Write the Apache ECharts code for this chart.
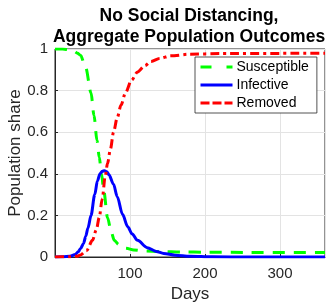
<!DOCTYPE html>
<html>
<head>
<meta charset="utf-8">
<script src="https://cdn.jsdelivr.net/npm/echarts@6/dist/echarts.min.js"></script>
<style>
  html, body { margin: 0; padding: 0; background: #fff; }
  #chart { width: 328px; height: 302px; }
</style>
</head>
<body>
<div id="chart"></div>
<script>
// Susceptible share by day
const susDays = [0, 10, 20, 25, 30, 34, 41, 48, 52, 56, 59, 62, 65, 70, 75, 79, 85, 95, 105, 120, 140, 170, 200, 260, 360];
const susVals = [1.0, 1.0, 0.996, 0.99, 0.98, 0.97, 0.91, 0.79, 0.68, 0.56, 0.48, 0.40, 0.32, 0.19, 0.12, 0.08, 0.06, 0.042, 0.034, 0.029, 0.026, 0.024, 0.023, 0.022, 0.022];

// Infective share by day
const infDays = [0, 10, 20, 27, 31, 34, 38, 41, 44, 48, 53, 56.5, 60, 63, 66, 69, 72, 78, 83, 90, 97, 103, 110, 123, 135, 145, 160, 180, 210, 260, 360];
const infVals = [0, 0.001, 0.004, 0.012, 0.025, 0.04, 0.065, 0.10, 0.14, 0.20, 0.30, 0.365, 0.40, 0.412, 0.415, 0.41, 0.395, 0.35, 0.29, 0.205, 0.145, 0.11, 0.08, 0.045, 0.027, 0.017, 0.009, 0.004, 0.001, 0.0002, 0];

// Removed share by day
const remDays = [0, 20, 30, 34, 42, 50, 55, 59, 63, 67, 70, 74, 78, 83, 88, 94, 102, 110, 120, 128, 140, 154, 180, 220, 360];
const remVals = [0, 0.001, 0.004, 0.01, 0.03, 0.08, 0.13, 0.19, 0.28, 0.39, 0.45, 0.52, 0.60, 0.67, 0.73, 0.79, 0.85, 0.89, 0.92, 0.94, 0.955, 0.967, 0.975, 0.978, 0.98];

const xTicks = { min: 0, max: 360, interval: 100 };
const yTicks = { min: 0, max: 1, interval: 0.2 };

const pairs = (xs, ys) => xs.map((x, i) => [x, ys[i]]);

const chart = echarts.init(document.getElementById('chart'));
const axisColor = '#262626';
const font = 'Liberation Sans, Arial, sans-serif';

const susStyle = { color: '#00ff00', width: 3, type: [12, 9] };
const infStyle = { color: '#0000ff', width: 3, type: 'solid' };
const remStyle = { color: '#ff0000', width: 3, type: [9, 4, 3, 4] };

chart.setOption({
  animation: false,
  title: {
    text: 'No Social Distancing,\nAggregate Population Outcomes',
    left: 184,
    textAlign: 'center',
    top: 1,
    textStyle: { fontFamily: font, fontSize: 17.5, fontWeight: 'bold', color: '#000', lineHeight: 21 },
  },
  legend: {
    orient: 'vertical',
    left: 195,
    top: 57,
    padding: [3, 8, 3, 4],
    itemGap: 4,
    itemWidth: 32,
    itemHeight: 14,
    backgroundColor: '#fff',
    borderColor: axisColor,
    borderWidth: 0.8,
    itemStyle: { opacity: 0 },
    textStyle: { fontFamily: font, fontSize: 14, color: '#000', padding: [0, 0, 0, -1] },
    data: [
      { name: 'Susceptible', lineStyle: { ...susStyle, type: [11, 15] }, itemStyle: { opacity: 0 } },
      { name: 'Infective', lineStyle: infStyle, itemStyle: { opacity: 0 } },
      { name: 'Removed', lineStyle: { ...remStyle, type: [9, 3] }, itemStyle: { opacity: 0 } },
    ],
  },
  grid: {
    left: 55, right: 3, top: 49, bottom: 45,
    containLabel: false, outerBoundsMode: 'none',
    show: true, borderColor: axisColor, borderWidth: 1,
  },
  xAxis: {
    type: 'value',
    min: xTicks.min, max: xTicks.max, interval: xTicks.interval,
    name: 'Days',
    nameLocation: 'middle',
    nameGap: 29,
    nameMoveOverlap: false,
    nameTextStyle: { fontFamily: font, fontSize: 17, color: axisColor },
    axisLine: { lineStyle: { color: axisColor, width: 1 } },
    axisTick: { inside: true, length: 3, lineStyle: { color: axisColor } },
    axisLabel: {
      fontFamily: font, fontSize: 15, color: axisColor, margin: 9,
      showMinLabel: false, showMaxLabel: false,
    },
    splitLine: { show: true, lineStyle: { color: '#e3e3e3' } },
  },
  yAxis: {
    type: 'value',
    min: yTicks.min, max: yTicks.max, interval: yTicks.interval,
    name: 'Population share',
    nameLocation: 'middle',
    nameGap: 31,
    nameMoveOverlap: false,
    nameTextStyle: { fontFamily: font, fontSize: 17, color: axisColor },
    axisLine: { show: true, lineStyle: { color: axisColor, width: 1 } },
    axisTick: { show: true, inside: true, length: 3, lineStyle: { color: axisColor } },
    axisLabel: { fontFamily: font, fontSize: 15, color: axisColor, margin: 7 },
    splitLine: { show: true, lineStyle: { color: '#e3e3e3' } },
  },
  series: [
    {
      name: 'Susceptible', type: 'line', symbol: 'none', smooth: 0.3, smoothMonotone: 'x',
      lineStyle: susStyle, itemStyle: { color: '#00ff00' },
      data: pairs(susDays, susVals), z: 3,
    },
    {
      name: 'Infective', type: 'line', symbol: 'none', smooth: 0.3, smoothMonotone: 'x',
      lineStyle: infStyle, itemStyle: { color: '#0000ff' },
      data: pairs(infDays, infVals), z: 4,
    },
    {
      name: 'Removed', type: 'line', symbol: 'none', smooth: 0.3, smoothMonotone: 'x',
      lineStyle: remStyle, itemStyle: { color: '#ff0000' },
      data: pairs(remDays, remVals), z: 5,
    },
  ],
});
</script>
</body>
</html>
